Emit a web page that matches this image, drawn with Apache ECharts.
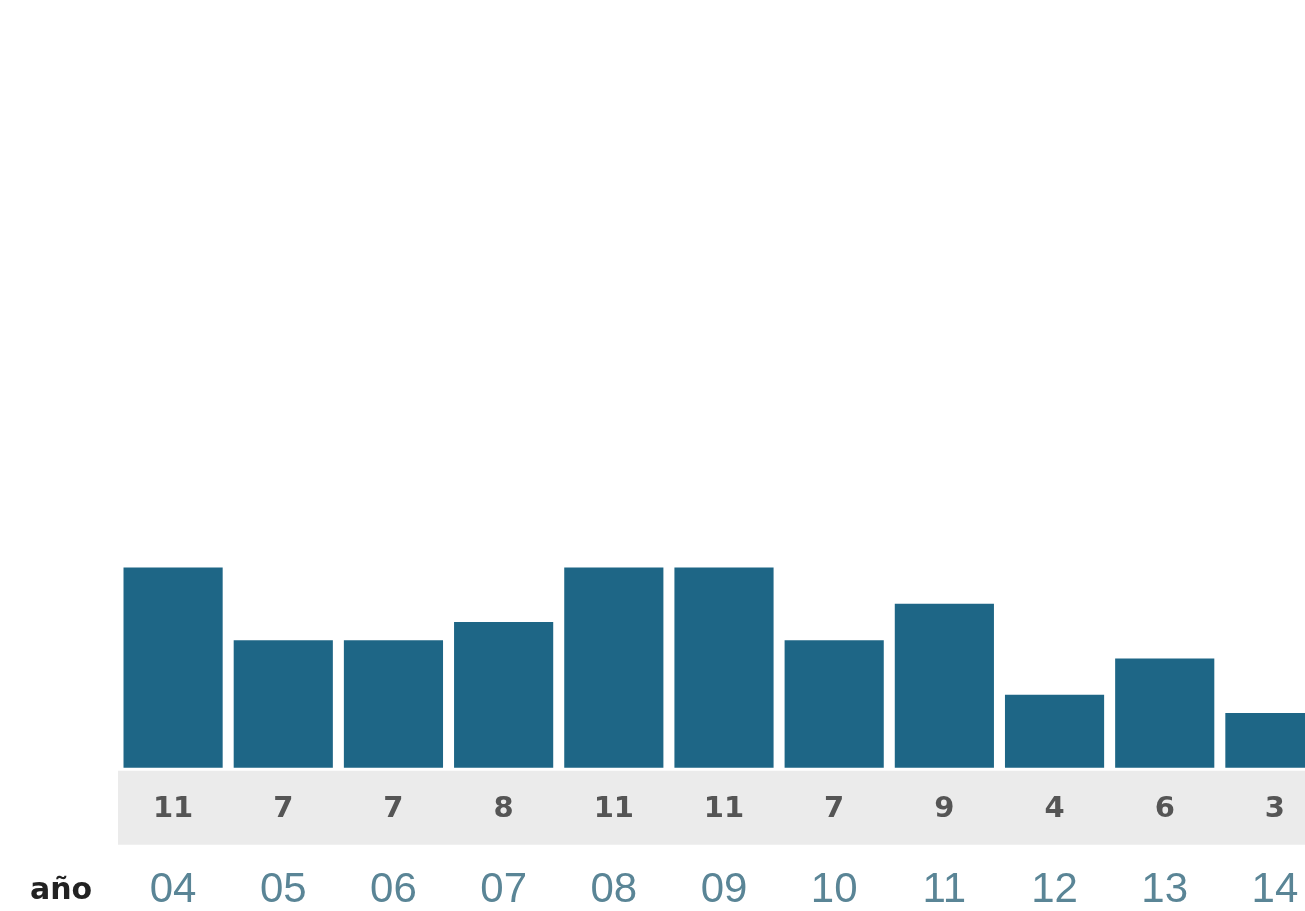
<!DOCTYPE html>
<html>
<head>
<meta charset="utf-8">
<script src="https://cdn.jsdelivr.net/npm/echarts@6/dist/echarts.min.js"></script>
<style>html,body{margin:0;padding:0;background:#fff;overflow:hidden;width:1305px;height:911px;}#chart{width:1330px;height:911px;}</style>
</head>
<body>
<div id="chart"></div>
<script>
var categories = ['04','05','06','07','08','09','10','11','12','13','14'];
var values = [11,7,7,8,11,11,7,9,4,6,3];
var axisTitle = 'año';

var chart = echarts.init(document.getElementById('chart'));
chart.setOption({
  animation: false,
  backgroundColor: '#ffffff',
  grid: { left: 118, right: 0, top: 403.65, bottom: 66, containLabel: false },
  xAxis: {
    type: 'category',
    data: categories,
    axisLine: { show: false },
    axisTick: { show: false },
    axisLabel: {
      margin: 24,
      fontSize: 42,
      fontFamily: 'Liberation Sans Narrow, Liberation Sans, sans-serif',
      color: '#5a8596'
    }
  },
  yAxis: {
    type: 'value',
    min: -4.25,
    max: 20,
    show: false,
    splitLine: { show: false }
  },
  graphic: [{
    type: 'text',
    left: 30,
    top: 876,
    style: { text: axisTitle, fontSize: 30, fontWeight: 'bold', fill: '#222', fontFamily: 'DejaVu Sans, sans-serif' }
  }],
  series: [{
    type: 'bar',
    data: values,
    barCategoryGap: '10%',
    itemStyle: { color: '#1e6686' },
    label: {
      show: true,
      position: 'bottom',
      distance: 27,
      fontSize: 29,
      fontWeight: 'bold',
      fontFamily: 'DejaVu Sans, sans-serif',
      color: '#555'
    },
    markArea: {
      silent: true,
      itemStyle: { color: '#ebebeb' },
      data: [[{ yAxis: -4.23 }, { yAxis: -0.17 }]]
    }
  }]
});
</script>
</body>
</html>
